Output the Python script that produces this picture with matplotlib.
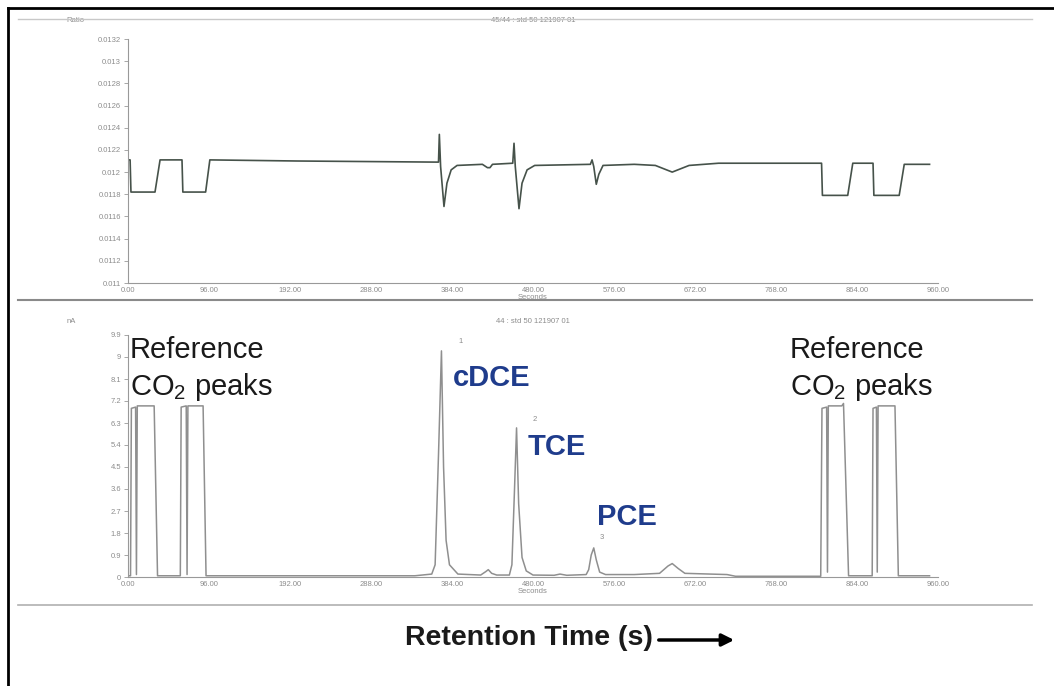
import matplotlib.pyplot as plt
from matplotlib.lines import Line2D
from matplotlib.patches import FancyArrowPatch

plt.rcParams['font.family'] = ['Liberation Sans', 'DejaVu Sans']
plt.rcParams['mathtext.fontset'] = 'custom'
plt.rcParams['mathtext.rm'] = 'Liberation Sans'
plt.rcParams['mathtext.it'] = 'Liberation Sans:italic'
plt.rcParams['mathtext.bf'] = 'Liberation Sans:bold'

# x axis (seconds), shared by both panels
x_ticks = [0, 96, 192, 288, 384, 480, 576, 672, 768, 864, 960]
x_labels = ['0.00', '96.00', '192.00', '288.00', '384.00', '480.00',
            '576.00', '672.00', '768.00', '864.00', '960.00']

# top panel: ratio trace
ratio_ticks = [0.011, 0.0112, 0.0114, 0.0116, 0.0118, 0.012,
               0.0122, 0.0124, 0.0126, 0.0128, 0.013, 0.0132]
ratio_labels = ['0.011', '0.0112', '0.0114', '0.0116', '0.0118', '0.012',
                '0.0122', '0.0124', '0.0126', '0.0128', '0.013', '0.0132']
t_ratio = [0, 2.5, 3.5, 32, 38, 64, 65, 92, 97, 200, 366, 368, 369, 370.5,
           374.5, 378, 383, 390, 420, 426, 429, 432, 456, 457.5, 459, 463.4,
           467, 473, 482, 548, 550, 552, 555, 558, 563, 600, 625, 645, 665,
           700, 822, 823, 853, 859, 883, 884, 914, 920, 950]
ratio = [0.01211, 0.01211, 0.01182, 0.01182, 0.01211, 0.01211, 0.01182,
         0.01182, 0.01211, 0.0121, 0.01209, 0.01209, 0.01234, 0.01205,
         0.01169, 0.0119, 0.01202, 0.01206, 0.01207, 0.01204, 0.01204,
         0.01207, 0.01208, 0.01226, 0.01205, 0.01167, 0.0119, 0.01202,
         0.01206, 0.01207, 0.01211, 0.01205, 0.01189, 0.01198, 0.01206,
         0.01207, 0.01206, 0.012, 0.01206, 0.01208, 0.01208, 0.01179,
         0.01179, 0.01208, 0.01208, 0.01179, 0.01179, 0.01207, 0.01207]

# bottom panel: detector signal
na_ticks = [0, 0.9, 1.8, 2.7, 3.6, 4.5, 5.4, 6.3, 7.2, 8.1, 9, 9.9]
na_labels = ['0', '0.9', '1.8', '2.7', '3.6', '4.5', '5.4', '6.3', '7.2',
             '8.1', '9', '9.9']
t_sig = [0, 3.0, 4.0, 9, 10, 11, 31, 35, 62, 63, 69, 70, 71, 89, 92.5,
         340, 360, 364, 368, 371.5, 374, 377, 381, 391, 418, 424, 427, 431,
         437, 452, 455, 458, 460.5, 463, 467, 472, 480, 505, 512, 520, 543,
         546, 549, 552, 555, 559, 566, 600, 630, 640, 645, 652, 660, 710,
         720, 821, 822.5, 828, 829, 830, 846, 848, 854, 882, 883, 887, 888,
         889, 909, 913, 920, 950]
signal = [0.05, 0.05, 6.9, 6.95, 0.1, 7.0, 7.0, 0.05, 0.05, 6.95, 7.0,
          0.1, 7.0, 7.0, 0.05, 0.05, 0.12, 0.5, 5.0, 9.25, 4.5, 1.5, 0.5,
          0.12, 0.08, 0.22, 0.3, 0.15, 0.08, 0.08, 0.5, 3.5, 6.1, 3.0, 0.8,
          0.25, 0.08, 0.07, 0.12, 0.07, 0.1, 0.3, 0.9, 1.19, 0.7, 0.2, 0.1,
          0.1, 0.15, 0.45, 0.55, 0.35, 0.15, 0.1, 0.03, 0.03, 6.9, 6.95,
          0.2, 7.0, 7.0, 7.1, 0.05, 0.05, 6.9, 6.95, 0.2, 7.0, 7.0, 0.05,
          0.05, 0.05]

peak_names = ['cDCE', 'TCE', 'PCE']
peak_label_t = [385, 474, 556]
peak_label_y = [8.15, 5.3, 2.45]
peak_num = ['1', '2', '3']
peak_num_t = [394, 482, 561]
peak_num_y = [9.65, 6.45, 1.6]
ref_label_t = [2.5, 784]

W, H = 1054, 686
fig = plt.figure(figsize=(W / 100, H / 100), dpi=100)


# frame lines of the original figure, given in pixels
def hline(y, x0, x1, color, lw):
    fig.add_artist(Line2D([x0 / W, x1 / W], [1 - y / H, 1 - y / H],
                          color=color, lw=lw, transform=fig.transFigure))


def vline(x, y0, y1, color, lw):
    fig.add_artist(Line2D([x / W, x / W], [1 - y0 / H, 1 - y1 / H],
                          color=color, lw=lw, transform=fig.transFigure))


hline(8, 8, W, 'black', 2)
vline(8, 8, H, 'black', 2)
hline(19, 18, 1032, '#c8c8c8', 1)
hline(300, 18, 1032, '#8a8a8a', 1.5)
hline(605, 18, 1032, '#b0b0b0', 1.2)

gray = '#8c8c8c'


def style(ax, yticks, ylabels):
    for s in ['top', 'right']:
        ax.spines[s].set_visible(False)
    for s in ['left', 'bottom']:
        ax.spines[s].set_color('#999999')
        ax.spines[s].set_linewidth(0.8)
    ax.set_xlim(0, 960)
    ax.set_xticks(x_ticks)
    ax.set_xticklabels(x_labels)
    ax.set_yticks(yticks)
    ax.set_yticklabels(ylabels)
    ax.tick_params(axis='both', labelsize=5.5, labelcolor=gray, color='#999999',
                   length=3, width=0.6, pad=2)
    ax.tick_params(axis='x', length=0, pad=3)
    ax.set_xlabel('Seconds', fontsize=5.5, color=gray, labelpad=0)


ax1 = fig.add_axes([128 / W, 1 - 283 / H, 810 / W, 244 / H])
ax1.plot(t_ratio, ratio, color='#46524a', lw=1.2)
ax1.set_ylim(0.011, 0.0132)
style(ax1, ratio_ticks, ratio_labels)
ax1.text(0.5, 1.07, '45/44 : std 50 121907 01', transform=ax1.transAxes,
         ha='center', fontsize=5.5, color=gray)
ax1.text(-0.065, 1.07, 'Ratio', transform=ax1.transAxes, ha='center',
         fontsize=5.5, color=gray)

ax2 = fig.add_axes([128 / W, 1 - 577 / H, 810 / W, 242 / H])
ax2.plot(t_sig, signal, color='#8f8f8f', lw=1.1)
ax2.set_ylim(0, 9.9)
style(ax2, na_ticks, na_labels)
ax2.text(0.5, 1.05, '44 : std 50 121907 01', transform=ax2.transAxes,
         ha='center', fontsize=5.5, color=gray)
ax2.text(-0.07, 1.05, 'nA', transform=ax2.transAxes, ha='center',
         fontsize=5.5, color=gray)

for t in ref_label_t:
    ax2.text(t, 9.85, 'Reference\nCO$_2$ peaks', fontsize=21, color='#1a1a1a',
             ha='left', va='top', linespacing=1.3)

for name, t, y in zip(peak_names, peak_label_t, peak_label_y):
    ax2.text(t, y, name, fontsize=21, fontweight='bold', color='#1f3c8c',
             ha='left', va='center')

for n, t, y in zip(peak_num, peak_num_t, peak_num_y):
    ax2.text(t, y, n, fontsize=5.5, color=gray, ha='center', va='center')

fig.text(405 / W, 1 - 638 / H, 'Retention Time (s)', fontsize=20.5,
         fontweight='bold', color='#1a1a1a', ha='left', va='center')
fig.add_artist(FancyArrowPatch(
    (656 / W, 1 - 640 / H), (737 / W, 1 - 640 / H), transform=fig.transFigure,
    arrowstyle='-|>', mutation_scale=18, lw=2.5, color='black'))

fig.savefig('out.png', dpi=100)
